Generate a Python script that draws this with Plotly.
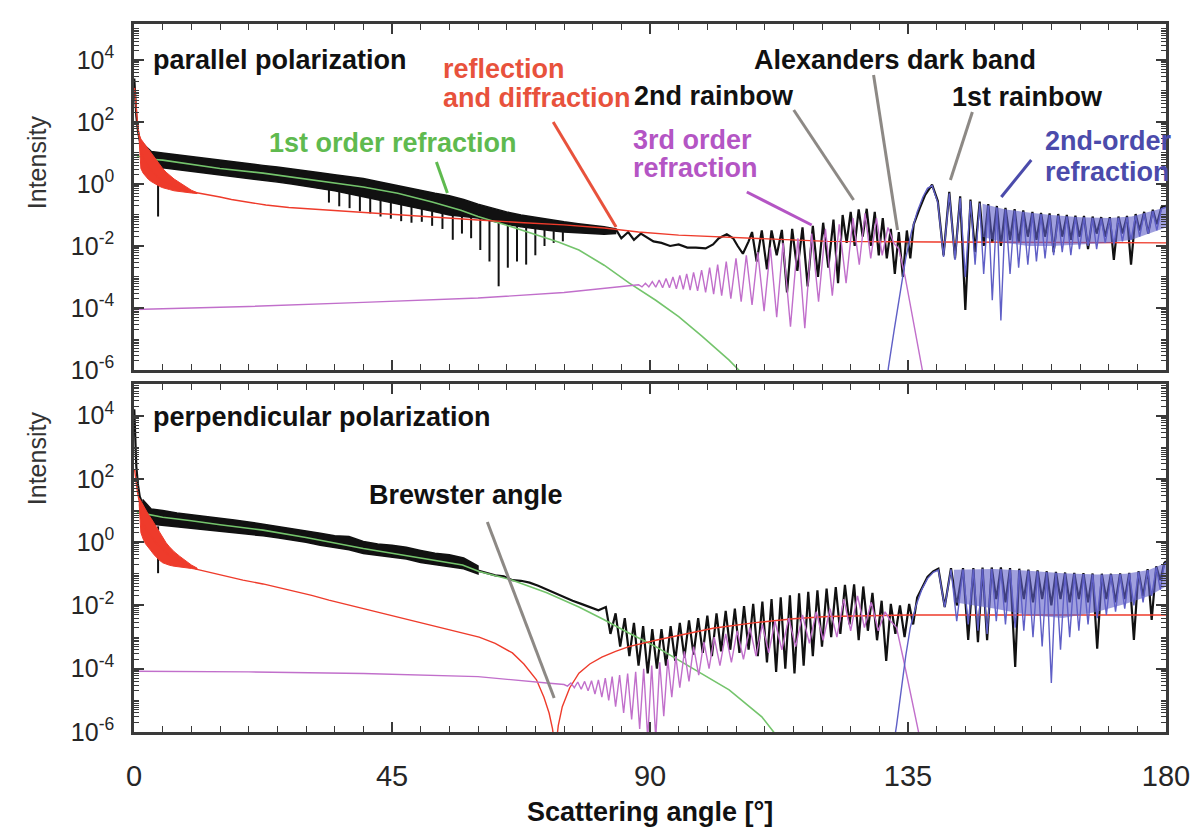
import plotly.graph_objects as go

# ================= DATA : (scattering angle [deg], log10 intensity) =================
# ---------- parallel polarization ----------
PAR_RED = [(0.1,3.1),(0.3,2.6),(0.6,2.0),(0.9,1.5),(1.5,0.9),(2.5,0.55),(4,0.25),(6,0.0),(8,-0.15),(10,-0.25),
           (11.6,-0.3),(13.5,-0.36),(15,-0.42),(17,-0.5),(20,-0.6),(23,-0.68),(27,-0.76),(31,-0.81),(35,-0.86),
           (40,-0.93),(46,-1.0),(53,-1.08),(60,-1.16),(68,-1.25),(75,-1.32),(82,-1.42),(88,-1.55),(95,-1.65),
           (102,-1.7),(110,-1.76),(121,-1.85),(140,-1.87),(160,-1.88),(180,-1.9)]
PAR_RED_DIFF = [(0.9,1.6,1.4),(1.2,1.45,0.5),(1.6,1.35,0.35),(2.0,1.25,0.25),(2.5,1.1,0.15),(3.0,1.0,0.08),
                (3.5,0.88,0.02),(4.0,0.75,-0.03),(4.5,0.62,-0.08),(5.0,0.5,-0.12),(5.6,0.38,-0.16),(6.2,0.28,-0.18),
                (7.0,0.16,-0.22),(8.0,0.04,-0.25),(9.0,-0.08,-0.27),(10.0,-0.2,-0.29),(11.0,-0.28,-0.31)]
PAR_GREEN = [(0.5,0.9),(3,0.8),(5,0.77),(10,0.63),(15,0.5),(22.5,0.35),(30,0.16),(40,-0.1),(46,-0.3),(52,-0.58),
             (57,-0.85),(60,-1.05),(65,-1.33),(70,-1.62),(74,-1.87),(77.6,-2.13),(82,-2.62),(86.4,-3.2),(91,-3.75),
             (95,-4.28),(99,-4.9),(103.8,-5.68),(106,-6.1)]
PAR_PURPLE = [(0,-4.05),(20,-3.95),(40,-3.82),(60,-3.68),(75,-3.5),(86,-3.3),(88,-3.25),(88.6,-3.32),(89.2,-3.2),
              (89.8,-3.32),(90.4,-3.15),(91.0,-3.33),(91.6,-3.1),(92.2,-3.35),(92.8,-3.05),(93.4,-3.35),(94.0,-3.0),
              (94.6,-3.38),(95.2,-2.95),(95.8,-3.4),(96.4,-2.9),(97.0,-3.42),(97.6,-2.85),(98.3,-3.45),(99.0,-2.78),
              (99.7,-3.5),(100.4,-2.7),(101.1,-3.55),(101.8,-2.6),(102.5,-3.6),(103.3,-2.5),(104.1,-3.7),(105.0,-2.4),
              (105.9,-3.8),(106.8,-2.3),(107.8,-3.9),(108.8,-2.2),(109.9,-4.1),(111.0,-2.05),(112.1,-4.3),(113.2,-1.9),
              (114.5,-4.6),(115.8,-1.75),(117.0,-4.65),(118.2,-1.6),(119.4,-3.8),(120.6,-1.45),(121.8,-3.6),
              (123.0,-1.3),(124.2,-3.2),(125.4,-1.1),(126.5,-2.6),(127.5,-0.95),(128.5,-2.4),(129.5,-1.1),
              (130.5,-2.3),(131.5,-1.4),(132.5,-1.9),(133.4,-2.1),(134.5,-3.0),(135.5,-4.0),(136.5,-4.95),
              (137.4,-5.9),(138,-6.5)]
PAR_BLUE = [(131.0,-6.8),(131.6,-5.9),(132.6,-4.7),(133.6,-3.5),(134.6,-2.4),(135.6,-1.55),(136.6,-0.9),
            (137.6,-0.42),(138.4,-0.14),(139.2,-0.05),(140.2,-0.6),(141.2,-2.35),(142.2,-0.3),(143.2,-2.45),
            (144.1,-0.45),(145.0,-3.0),(145.9,-0.55),(146.7,-2.6),(147.5,-0.62),(148.2,-2.9),(149.0,-0.7),
            (149.7,-3.75),(150.5,-0.76),(151.2,-4.4),(152.0,-0.82),(152.8,-2.9),(153.6,-0.86),(154.3,-2.7),
            (155.1,-0.9),(155.9,-2.6),(156.7,-0.95),(157.4,-2.5),(158.2,-0.98),(158.9,-2.4),(159.7,-1.0),
            (160.4,-2.3),(161.2,-1.02),(161.9,-2.2),(162.7,-1.05),(163.4,-2.3),(164.2,-1.07),(164.9,-2.1),
            (165.7,-1.08),(166.4,-2.0),(167.2,-1.1),(167.9,-2.1),(168.7,-1.12),(169.4,-1.9),(170.2,-1.12),
            (170.9,-1.95),(171.7,-1.1),(172.4,-1.85),(173.2,-1.08),(173.9,-1.8),(174.7,-1.02),(175.4,-1.7),
            (176.2,-0.95),(176.9,-1.6),(177.7,-0.88),(178.4,-1.5),(179.2,-0.8),(180.0,-0.75)]
PAR_BLUE_BAND = [(148,-0.64,-1.7),(152,-0.82,-1.9),(156,-0.92,-2.0),(160,-1.0,-2.0),(165,-1.07,-1.95),
                 (170,-1.1,-1.9),(174,-1.05,-1.8),(177,-0.9,-1.6),(180,-0.75,-1.4)]
# measured total: noisy band (angle, upper, lower), spikes (angle, top, tip), head and comb line
PAR_BAND = [(1.5,1.3,0.45),(3,1.05,0.5),(5,1.0,0.52),(7.5,0.94,0.47),(10,0.88,0.42),(12.5,0.82,0.36),
            (15,0.76,0.3),(17.5,0.7,0.24),(20,0.65,0.18),(22.5,0.6,0.12),(25,0.55,0.06),(27.5,0.48,0.0),
            (30,0.42,-0.07),(32.5,0.36,-0.15),(35,0.3,-0.22),(37.5,0.24,-0.3),(40,0.18,-0.4),(42.5,0.08,-0.5),
            (45,-0.02,-0.6),(47.5,-0.12,-0.7),(50,-0.22,-0.8),(52.5,-0.3,-0.9),(55,-0.38,-1.0),(57.5,-0.5,-1.05),
            (60,-0.65,-1.1),(62.5,-0.78,-1.2),(65,-0.9,-1.3),(67.5,-1.0,-1.38),(70,-1.08,-1.45),(72.5,-1.15,-1.5),
            (75,-1.22,-1.55),(77.5,-1.28,-1.58),(80,-1.33,-1.6),(82,-1.38,-1.62),(84,-1.45,-1.6)]
PAR_SPIKES = [(4.2,0.6,-1.05),(34.0,-0.18,-0.6),(35.8,-0.26,-0.72),(37.6,-0.32,-0.78),(39.4,-0.38,-0.88),
              (41.2,-0.45,-0.95),(43.0,-0.53,-1.05),(44.8,-0.6,-1.12),(46.6,-0.66,-1.2),(48.4,-0.74,-1.25),
              (50.2,-0.8,-1.22),(52.0,-0.88,-1.35),(53.8,-0.95,-1.45),(55.6,-1.0,-1.8),(57.2,-1.04,-1.6),
              (58.8,-1.08,-1.75),(60.4,-1.12,-2.13),(62.0,-1.18,-2.5),(63.6,-1.25,-3.3),(65.2,-1.3,-2.7),
              (66.8,-1.35,-2.5),(68.4,-1.4,-2.6),(70.0,-1.45,-2.3),(71.6,-1.48,-2.0),(73.2,-1.52,-1.9),
              (74.8,-1.55,-1.85)]
PAR_HEAD = [(0.05,3.4),(0.2,2.8),(0.4,2.2),(0.7,1.7),(1.0,1.4),(1.5,1.15)]
PAR_LINE = [(84.0,-1.45),(85.0,-1.75),(86.2,-1.55),(87.2,-1.8),(88.4,-1.6),(89.6,-1.75),(90.6,-1.85),(92.0,-1.9),
            (93.5,-2.0),(95.0,-1.95),(96.5,-2.05),(98.0,-2.05),(99.7,-2.08),(101.0,-1.95),(102.0,-1.75),
            (103.4,-1.62),(104.5,-1.75),(105.3,-2.0),(106.2,-2.25),(107.2,-1.85),(107.8,-1.55),(108.6,-2.5),
            (109.5,-1.5),(110.4,-2.75),(111.2,-1.5),(112.1,-2.3),(113.0,-1.48),(113.9,-3.5),(114.8,-1.45),
            (115.7,-2.8),(116.6,-1.4),(117.5,-3.3),(118.4,-1.35),(119.3,-3.0),(120.2,-1.25),(121.1,-2.7),
            (122.0,-1.15),(122.8,-3.2),(123.6,-1.0),(124.3,-1.9),(125.0,-0.9),(125.7,-2.0),(126.4,-0.82),
            (127.1,-1.7),(127.8,-0.8),(128.5,-2.0),(129.2,-0.9),(129.9,-2.3),(130.6,-1.1),(131.3,-2.4),
            (132.0,-1.45),(132.7,-2.9),(133.4,-1.55),(134.1,-3.0),(134.8,-1.5),(135.4,-2.4),(136.0,-1.3),
            (137.0,-0.8),(138.0,-0.35),(139.2,-0.02),(140.2,-0.55),(141.2,-2.3),(142.2,-0.25),(143.2,-2.4),
            (144.1,-0.4),(145.0,-4.06),(145.9,-0.5),(146.7,-2.2),(147.5,-0.57),(148.2,-2.0),(149.0,-0.65),
            (149.7,-1.9),(150.5,-0.71),(151.2,-2.0),(152.0,-0.77),(152.8,-1.8),(153.6,-0.81),(154.3,-1.9),
            (155.1,-0.85),(155.9,-1.7),(156.7,-0.9),(157.4,-1.8),(158.2,-0.93),(158.9,-1.7),(159.7,-0.95),
            (160.4,-2.2),(161.2,-0.97),(161.9,-1.7),(162.7,-1.0),(163.4,-1.8),(164.2,-1.02),(164.9,-1.7),
            (165.7,-1.03),(166.4,-2.1),(167.2,-1.05),(167.9,-1.6),(168.7,-1.07),(169.4,-1.7),(170.2,-1.07),
            (170.9,-2.45),(171.7,-1.05),(172.4,-1.6),(173.2,-1.03),(173.9,-2.6),(174.7,-0.97),(175.4,-1.5),
            (176.2,-0.9),(176.9,-1.6),(177.7,-0.83),(178.4,-1.3),(179.2,-0.75),(180.0,-0.7)]

# ---------- perpendicular polarization ----------
PERP_RED = [(0.1,2.3),(0.3,2.0),(0.6,1.6),(0.9,1.3),(1.5,0.6),(2.5,0.3),(4,-0.05),(6,-0.4),(8,-0.6),(10,-0.78),
            (11,-0.86),(13,-0.95),(16,-1.08),(19,-1.2),(22.5,-1.32),(27,-1.5),(31,-1.68),(34,-1.83),(40,-2.1),
            (45.8,-2.36),(52,-2.63),(57.3,-2.87),(60.2,-3.0),(63,-3.2),(66,-3.5),(68,-3.85),(70.2,-4.35),
            (71.5,-4.9),(72.4,-5.4),(73.0,-5.9),(73.5,-6.6),(74.0,-5.8),(74.7,-5.2),(76,-4.6),(77.6,-4.14),
            (79.5,-3.85),(81.6,-3.63),(84,-3.45),(86.3,-3.3),(91,-3.1),(96,-2.9),(101,-2.72),(108,-2.55),
            (115,-2.42),(121,-2.35),(135,-2.3),(150,-2.3),(180,-2.3)]
PERP_RED_DIFF = [(0.9,1.4,1.2),(1.2,1.3,0.3),(1.6,1.15,0.1),(2.0,1.0,-0.05),(2.5,0.88,-0.18),(3.0,0.75,-0.28),
                 (3.5,0.6,-0.4),(4.0,0.45,-0.5),(4.5,0.3,-0.58),(5.0,0.12,-0.65),(5.6,-0.02,-0.7),(6.2,-0.15,-0.73),
                 (7.0,-0.3,-0.76),(8.0,-0.45,-0.79),(9.0,-0.6,-0.81),(10.0,-0.72,-0.83),(11.0,-0.82,-0.86)]
PERP_GREEN = [(0.5,0.95),(3,0.85),(5,0.79),(10,0.68),(15,0.55),(22.5,0.38),(30,0.15),(40,-0.2),(50,-0.5),
              (57.3,-0.72),(60.2,-0.93),(66,-1.2),(72,-1.6),(77.6,-2.05),(82,-2.45),(86.3,-2.87),(91,-3.3),
              (95,-3.72),(100,-4.25),(103.8,-4.67),(109.5,-5.52),(111.3,-5.93),(112,-6.1)]
PERP_PURPLE = [(0,-4.08),(20,-4.1),(40,-4.15),(60,-4.25),(72,-4.45),(75,-4.5),(75.6,-4.55),(76.2,-4.45),
               (76.8,-4.6),(77.4,-4.42),(78.0,-4.65),(78.6,-4.4),(79.2,-4.7),(79.8,-4.38),(80.4,-4.8),(81.0,-4.35),
               (81.6,-4.9),(82.2,-4.3),(82.8,-5.0),(83.4,-4.25),(84.0,-5.2),(84.7,-4.2),(85.4,-5.4),(86.1,-4.15),
               (86.8,-5.6),(87.5,-4.1),(88.2,-5.9),(88.9,-4.0),(89.6,-6.2),(90.3,-3.9),(91.0,-6.2),(91.7,-3.8),
               (92.4,-5.5),(93.1,-3.7),(93.8,-4.9),(94.5,-3.6),(95.2,-4.6),(96.0,-3.45),(96.8,-4.4),(97.6,-3.3),
               (98.5,-4.2),(99.4,-3.15),(100.3,-4.0),(101.2,-3.0),(102.2,-3.9),(103.2,-2.9),(104.2,-3.8),
               (105.2,-2.8),(106.3,-3.7),(107.4,-2.7),(108.5,-3.6),(109.6,-2.6),(110.7,-3.5),(111.8,-2.5),
               (113,-3.4),(114.2,-2.4),(115.4,-3.3),(116.6,-2.3),(117.8,-3.2),(119,-2.2),(120.2,-3.1),(121.4,-2.1),
               (122.6,-3.0),(123.8,-1.8),(125,-2.8),(126.2,-1.7),(127.4,-2.7),(128.6,-1.9),(129.8,-2.8),(131,-2.2),
               (132,-2.5),(133,-2.7),(134.2,-3.7),(135.4,-4.7),(136.6,-5.7),(137.3,-6.4)]
PERP_BLUE = [(132.4,-6.5),(133.0,-5.8),(133.8,-4.7),(134.6,-3.6),(135.4,-2.7),(136.4,-2.0),(137.4,-1.5),
             (138.4,-1.15),(139.4,-0.95),(140.3,-0.88),(141.4,-2.05),(142.5,-0.86),(143.5,-2.5),(144.6,-0.86),
             (145.5,-2.6),(146.4,-0.86),(147.2,-2.8),(148.0,-0.84),(148.8,-2.9),(149.6,-0.84),(150.4,-2.5),
             (151.2,-0.85),(152.0,-2.6),(152.8,-0.86),(153.7,-2.7),(154.4,-0.88),(155.2,-2.8),(156.0,-0.9),
             (156.8,-3.0),(157.6,-0.92),(158.4,-3.3),(159.2,-0.95),(160.0,-4.45),(160.8,-0.97),(161.6,-3.4),
             (162.4,-0.99),(163.2,-3.0),(164.0,-1.0),(164.8,-2.8),(165.6,-1.01),(166.4,-2.6),(167.2,-1.02),
             (168.0,-2.4),(168.8,-1.03),(169.6,-2.3),(170.4,-1.03),(171.2,-2.2),(172.0,-1.02),(172.8,-2.1),
             (173.6,-1.0),(174.4,-2.0),(175.2,-0.95),(176.0,-1.9),(176.8,-0.88),(177.5,-1.7),(178.3,-0.8),
             (179.0,-1.5),(179.7,-0.7),(180.0,-0.65)]
PERP_BLUE_BAND = [(143,-0.87,-1.9),(150,-0.85,-2.1),(156,-0.9,-2.3),(162,-0.98,-2.4),(168,-1.02,-2.2),
                  (173,-1.0,-1.95),(177,-0.88,-1.7),(180,-0.65,-1.4)]
PERP_BAND = [(1.5,1.35,0.6),(3,1.05,0.58),(5,1.0,0.55),(7.5,0.92,0.5),(10,0.87,0.45),(12.5,0.82,0.4),
             (15,0.76,0.35),(17.5,0.7,0.3),(20,0.64,0.25),(22.5,0.57,0.2),(25,0.5,0.14),(27.5,0.44,0.08),
             (30,0.37,0.0),(32.5,0.28,-0.1),(35,0.2,-0.18),(37.5,0.18,-0.24),(40,0.02,-0.36),(42.5,-0.06,-0.42),
             (45,-0.1,-0.48),(47.5,-0.16,-0.53),(50,-0.26,-0.64),(52.5,-0.35,-0.72),(55,-0.4,-0.78),
             (57.5,-0.5,-0.84),(60,-0.75,-1.0)]
PERP_SPIKES = [(4.2,0.5,-0.98)]
PERP_HEAD = [(0.05,4.2),(0.2,3.3),(0.4,2.4),(0.7,1.8),(1.0,1.45),(1.5,1.2)]
PERP_LINE = [(60,-0.9),(61.5,-0.98),(63,-1.05),(64.5,-1.08),(66,-1.2),(67.5,-1.22),(69,-1.28),(70.5,-1.38),
             (72,-1.5),(73.5,-1.6),(75,-1.72),(76.5,-1.85),(78,-1.95),(79.5,-2.05),(81,-2.15),(82.3,-2.05),
             (83.1,-2.9),(84.0,-2.25),(84.8,-3.3),(85.6,-2.4),(86.4,-3.6),(87.2,-2.55),(88.0,-3.9),(88.8,-2.65),
             (89.6,-4.15),(90.4,-2.75),(91.2,-4.0),(92.0,-2.75),(92.8,-3.9),(93.6,-2.65),(94.4,-3.75),(95.2,-2.55),
             (96.0,-3.65),(96.8,-2.47),(97.6,-3.55),(98.4,-2.4),(99.2,-3.5),(100.0,-2.32),(100.8,-3.6),
             (101.6,-2.25),(102.4,-3.45),(103.2,-2.17),(104.0,-3.4),(104.8,-2.1),(105.6,-3.5),(106.4,-2.02),
             (107.2,-3.4),(108.0,-1.95),(108.8,-3.6),(109.6,-1.88),(110.4,-3.8),(111.2,-1.8),(112.0,-4.1),
             (112.8,-1.74),(113.6,-4.0),(114.4,-1.68),(115.2,-4.15),(116.0,-1.62),(116.8,-3.9),(117.6,-1.57),
             (118.4,-3.6),(119.2,-1.52),(120.0,-3.3),(120.8,-1.47),(121.6,-3.0),(122.4,-1.42),(123.2,-2.9),
             (124.0,-1.35),(124.8,-2.6),(125.6,-1.33),(126.4,-3.1),(127.2,-1.4),(128.0,-2.8),(128.8,-1.6),
             (129.6,-3.1),(130.4,-1.85),(131.2,-3.75),(132.0,-1.95),(132.8,-2.9),(133.6,-2.0),(134.4,-3.0),
             (135.2,-1.95),(135.9,-2.6),(136.6,-1.75),(137.4,-1.45),(138.4,-1.1),(139.4,-0.92),(140.3,-0.84),
             (141.4,-2.05),(142.5,-0.82),(143.5,-2.0),(144.6,-0.82),(145.5,-3.09),(146.4,-0.82),(147.2,-3.16),
             (148.0,-0.8),(148.8,-3.1),(149.6,-0.8),(150.4,-1.8),(151.2,-0.8),(152.0,-1.9),(152.8,-0.82),
             (153.7,-3.94),(154.4,-0.84),(155.2,-1.8),(156.0,-0.87),(156.8,-1.9),(157.6,-0.89),(158.4,-1.8),
             (159.2,-0.92),(160.0,-2.0),(160.8,-0.94),(161.6,-1.8),(162.4,-0.96),(163.2,-1.9),(164.0,-0.97),
             (164.8,-1.8),(165.6,-0.98),(166.4,-1.9),(167.2,-0.99),(168.0,-3.37),(168.8,-1.0),(169.6,-1.8),
             (170.4,-1.0),(171.2,-1.9),(172.0,-0.99),(172.8,-1.8),(173.6,-0.97),(174.4,-3.09),(175.2,-0.92),
             (176.0,-1.7),(176.8,-0.85),(177.5,-2.46),(178.3,-0.76),(179.0,-1.2),(179.7,-0.66),(180.0,-0.6)]

X_TICKS = [0, 45, 90, 135, 180]
X_LABELS = ["0", "45", "90", "135", "180"]
Y_LABEL_EXPONENTS = [-6, -4, -2, 0, 2, 4]

# ================= styling =================
FONT = "Liberation Sans, Arial, Helvetica, sans-serif"
C_BLACK = "#111111"
C_RED = "#ee3b2b"
C_GREEN = "#74c46c"
C_PURPLE = "#c16fcb"
C_BLUE = "#5f5fc6"
C_BLUE_FILL = "rgba(95,95,200,0.6)"
C_GRAY = "#8d8985"
C_FRAME = "#3a3a3a"

W, H = 1202, 830
ML, MR, MT, MB = 134, 34, 24, 98
PW, PH = W - ML - MR, H - MT - MB


def pxx(x):
    return (x - ML) / PW


def pxy(y):
    return (H - MB - y) / PH


def xy(pairs):
    return [p[0] for p in pairs], [10 ** p[1] for p in pairs]


fig = go.Figure()


def band_trace(band, color, fillcolor, kw, width=1.0):
    x = [b[0] for b in band] + [b[0] for b in band[::-1]]
    y = [10 ** b[1] for b in band] + [10 ** b[2] for b in band[::-1]]
    return go.Scatter(x=x, y=y, fill="toself", fillcolor=fillcolor, line=dict(color=color, width=width), **kw)


def add_panel(ax, band, spikes, head, line, green, red, red_diff, purple, blue, blue_band):
    xa, ya = ("x", "y") if ax == 1 else ("x2", "y2")
    kw = dict(xaxis=xa, yaxis=ya, showlegend=False, hoverinfo="skip", mode="lines")
    fig.add_trace(band_trace(band, C_BLACK, C_BLACK, kw, 1.5))
    sx, sy = [], []
    for a, t, b in spikes:
        sx += [a, a, None]
        sy += [10 ** t, 10 ** b, None]
    fig.add_trace(go.Scatter(x=sx, y=sy, line=dict(color=C_BLACK, width=2), **kw))
    hx, hy = xy(head)
    fig.add_trace(go.Scatter(x=hx, y=hy, line=dict(color=C_BLACK, width=2.2), **kw))
    lx, ly = xy(line)
    fig.add_trace(go.Scatter(x=lx, y=ly, line=dict(color=C_BLACK, width=2.2), **kw))
    gx, gy = xy(green)
    fig.add_trace(go.Scatter(x=gx, y=gy, line=dict(color=C_GREEN, width=1.6), **kw))
    fig.add_trace(band_trace(red_diff, C_RED, C_RED, kw, 1.0))
    rx, ry = xy(red)
    fig.add_trace(go.Scatter(x=rx, y=ry, line=dict(color=C_RED, width=1.4), **kw))
    px_, py_ = xy(purple)
    fig.add_trace(go.Scatter(x=px_, y=py_, line=dict(color=C_PURPLE, width=1.4), **kw))
    fig.add_trace(band_trace(blue_band, "rgba(0,0,0,0)", C_BLUE_FILL, kw, 0))
    bx, by = xy(blue)
    fig.add_trace(go.Scatter(x=bx, y=by, line=dict(color=C_BLUE, width=1.4), **kw))


add_panel(1, PAR_BAND, PAR_SPIKES, PAR_HEAD, PAR_LINE, PAR_GREEN, PAR_RED, PAR_RED_DIFF, PAR_PURPLE,
          PAR_BLUE, PAR_BLUE_BAND)
add_panel(2, PERP_BAND, PERP_SPIKES, PERP_HEAD, PERP_LINE, PERP_GREEN, PERP_RED, PERP_RED_DIFF, PERP_PURPLE,
          PERP_BLUE, PERP_BLUE_BAND)

# ---------- axes ----------
y_tickvals = [10 ** k for k in Y_LABEL_EXPONENTS]
y_ticktext = ["10<sup>%d</sup>" % k for k in Y_LABEL_EXPONENTS]
y_minor = sorted([m * 10 ** k for k in range(-6, 6) for m in range(2, 10)] + [10 ** k for k in (-5, -3, -1, 1, 3, 5)])

common_x = dict(range=[0, 180], tickmode="array", tickvals=X_TICKS, ticks="inside", ticklen=10,
                tickwidth=1.6, tickcolor=C_FRAME, showline=True, linecolor=C_FRAME, linewidth=2.6,
                mirror="allticks", showgrid=False, zeroline=False,
                minor=dict(dtick=5, tick0=0, ticks="inside", ticklen=6, tickwidth=1.4, tickcolor=C_FRAME,
                           showgrid=False))
common_y = dict(type="log", tickmode="array", tickvals=y_tickvals, ticktext=y_ticktext, ticks="inside",
                ticklen=10, tickwidth=1.6, tickcolor=C_FRAME, showline=True, linecolor=C_FRAME, linewidth=2.6,
                mirror="allticks", showgrid=False, zeroline=False, ticklabelstandoff=12,
                tickfont=dict(family=FONT, size=25, color="#262626"),
                minor=dict(tickmode="array", tickvals=y_minor, ticks="inside", ticklen=5, tickwidth=1.2,
                           tickcolor=C_FRAME, showgrid=False))

top_dom = [pxy(370), 1.0]
bot_dom = [0.0, pxy(384)]

fig.update_layout(
    width=W, height=H,
    margin=dict(l=ML, r=MR, t=MT, b=MB),
    paper_bgcolor="white", plot_bgcolor="white",
    xaxis=dict(domain=[0, 1], anchor="y", showticklabels=False, **common_x),
    yaxis=dict(domain=top_dom, anchor="x", range=[-6, 5.16], **common_y),
    xaxis2=dict(domain=[0, 1], anchor="y2", showticklabels=True, ticktext=X_LABELS, ticklabelstandoff=16,
                tickfont=dict(family=FONT, size=29, color="#262626"), **common_x),
    yaxis2=dict(domain=bot_dom, anchor="x2", range=[-6, 5.0], **common_y),
    hovermode=False,
)

# ---------- annotations ----------
ANN = 27
annots = [
    ("parallel polarization", 151, 60, "#111111"),
    ("reflection", 442, 69, "#e8523c"),
    ("and diffraction", 442, 98, "#e8523c"),
    ("1st order refraction", 267, 143, "#5fba4f"),
    ("2nd rainbow", 633, 96, "#111111"),
    ("3rd order", 632, 140, "#b455c4"),
    ("refraction", 632, 168, "#b455c4"),
    ("Alexanders dark band", 753, 60, "#111111"),
    ("1st rainbow", 952, 97, "#111111"),
    ("2nd-order", 1045, 141, "#4b4bab"),
    ("refraction", 1045, 172, "#4b4bab"),
    ("perpendicular polarization", 151, 417, "#111111"),
    ("Brewster angle", 367, 495, "#111111"),
]
for text, x, y, col in annots:
    fig.add_annotation(text="<b>%s</b>" % text, xref="paper", yref="paper", x=pxx(x), y=pxy(y),
                       xanchor="left", yanchor="middle", align="left", showarrow=False,
                       font=dict(family=FONT, size=ANN, color=col))

fig.add_annotation(text="<b>Scattering angle [°]</b>", xref="paper", yref="paper", x=pxx(651), y=pxy(812),
                   xanchor="center", yanchor="middle", showarrow=False,
                   font=dict(family=FONT, size=27, color="#111111"))
for yc in (162, 458):
    fig.add_annotation(text="Intensity", xref="paper", yref="paper", x=pxx(37), y=pxy(yc), textangle=-90,
                       xanchor="center", yanchor="middle", showarrow=False,
                       font=dict(family=FONT, size=25, color="#333333"))

# ---------- leader lines ----------
leaders = [
    ((554, 122), (617, 227), "#e8523c"),
    ((437, 162), (448, 193), "#5fba4f"),
    ((795, 110), (855, 200), C_GRAY),
    ((875, 75), (899, 230), C_GRAY),
    ((974, 112), (952, 180), C_GRAY),
    ((748, 192), (813, 225), "#b455c4"),
    ((1033, 160), (1003, 197), "#4b4bab"),
    ((488, 522), (555, 698), C_GRAY),
]
for (x0, y0), (x1, y1), col in leaders:
    fig.add_shape(type="line", xref="paper", yref="paper", x0=pxx(x0), y0=pxy(y0), x1=pxx(x1), y1=pxy(y1),
                  line=dict(color=col, width=3))

fig.write_html("out.html", config={"displayModeBar": False},
               post_script="document.body.style.margin='0px';")
